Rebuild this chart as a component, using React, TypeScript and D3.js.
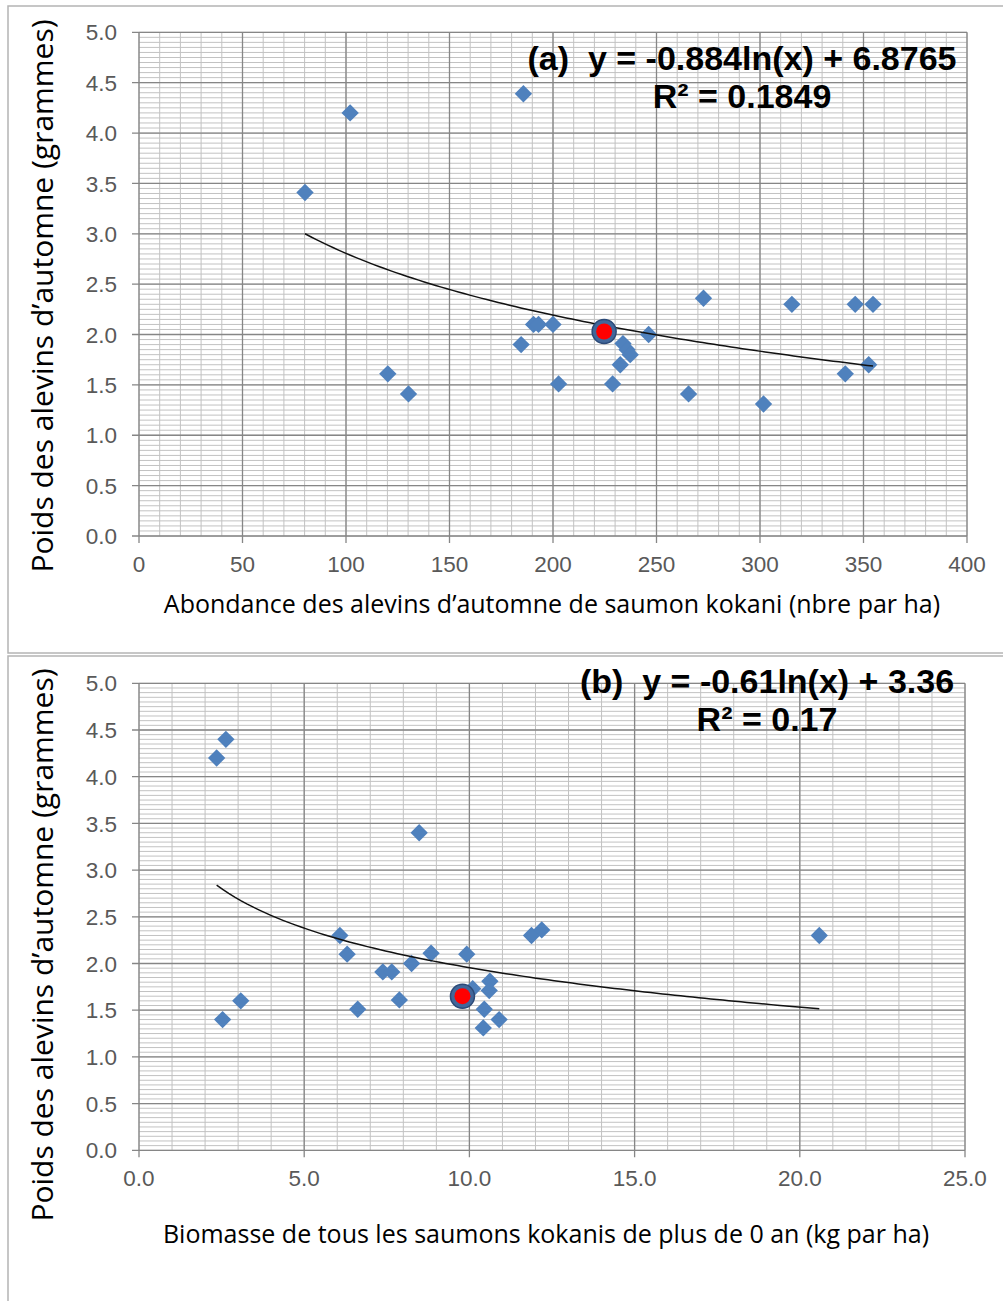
import * as d3 from 'd3'

// Panel (a): abundance of autumn fry vs weight
const abondance = [80.2, 102, 185.7, 120.2, 130.2, 184.6, 190.6, 193, 200, 202.7, 228.8, 233.8, 235.8, 237.3, 232.5, 246.2, 265.5, 272.7, 301.7, 315.4, 341.2, 346, 352.5, 354.6]
const poidsA = [3.41, 4.2, 4.39, 1.61, 1.41, 1.9, 2.1, 2.1, 2.1, 1.51, 1.51, 1.91, 1.85, 1.8, 1.7, 2.0, 1.41, 2.36, 1.31, 2.3, 1.61, 2.3, 1.7, 2.3]
const pointRougeA = [224.7, 2.03]
const fitA = [-0.884, 6.8765]
const equationA = ['(a)  y = -0.884ln(x) + 6.8765', 'R² = 0.1849']
const xTicksA = [0, 50, 100, 150, 200, 250, 300, 350, 400]

// Panel (b): biomass of all kokanee > age 0 vs weight
const biomasse = [2.35, 2.63, 2.53, 3.08, 8.48, 6.08, 6.3, 6.62, 7.38, 7.65, 7.88, 8.25, 8.84, 9.92, 10.1, 10.62, 10.6, 10.45, 10.42, 10.9, 11.88, 12.19, 20.59]
const poidsB = [4.2, 4.4, 1.4, 1.6, 3.4, 2.3, 2.1, 1.51, 1.91, 1.91, 1.61, 2.0, 2.11, 2.1, 1.73, 1.81, 1.71, 1.51, 1.31, 1.4, 2.3, 2.36, 2.3]
const pointRougeB = [9.79, 1.65]
const fitB = [-0.61, 3.36]
const equationB = ['(b)  y = -0.61ln(x) + 3.36', 'R² = 0.17']
const xTicksB = [0, 5, 10, 15, 20, 25]

const yTicks = [0, 0.5, 1, 1.5, 2, 2.5, 3, 3.5, 4, 4.5, 5]

const TITLE_Y = 'Poids des alevins d’automne (grammes)'

function Panel({ top, height, xs, ys, red, fit, equation, xTicks, xMinor, xFmt, plot, xTitle, yTitleY, eq }) {
  const x = d3.scaleLinear().domain([xTicks[0], xTicks[xTicks.length - 1]]).range([plot.left, plot.right])
  const y = d3.scaleLinear().domain([0, 5]).range([plot.bottom, plot.top])

  const xMin = d3.range(xTicks[0], xTicks[xTicks.length - 1] + 1e-9, xMinor)
  const yMin = d3.range(0, 5 + 1e-9, 0.05)

  // trend curve from the fitted equation, over the span of the data
  const allX = [...xs, red[0]]
  const [lo, hi] = d3.extent(allX)
  const curveX = d3.range(0, 101).map(i => lo + (hi - lo) * i / 100)
  const line = d3.line().x(d => x(d)).y(d => y(fit[0] * Math.log(d) + fit[1]))

  const diamond = d3.symbol(d3.symbolSquare, 150)()

  return (
    <g>
      <rect x={8} y={top} width={1010} height={height} fill="#fff" stroke="#b4b4b4" strokeWidth={1.5} />
      {yMin.map((v, i) => (
        <line key={'hm' + i} x1={plot.left} x2={plot.right} y1={y(v)} y2={y(v)} stroke="#c2c2c2" strokeWidth={1} />
      ))}
      {xMin.map((v, i) => (
        <line key={'vm' + i} x1={x(v)} x2={x(v)} y1={plot.top} y2={plot.bottom} stroke="#c2c2c2" strokeWidth={1} />
      ))}
      {yTicks.map(v => (
        <line key={'hM' + v} x1={plot.left - 7} x2={plot.right} y1={y(v)} y2={y(v)} stroke="#868686" strokeWidth={1.3} />
      ))}
      {xTicks.map(v => (
        <line key={'vM' + v} x1={x(v)} x2={x(v)} y1={plot.top} y2={plot.bottom + 7} stroke="#868686" strokeWidth={1.3} />
      ))}
      {yTicks.map(v => (
        <text key={'yl' + v} x={plot.left - 22} y={y(v)} dy="0.36em" textAnchor="end"
          fontFamily="Liberation Sans, Arial" fontSize={22.5} fill="#595959">{v.toFixed(1)}</text>
      ))}
      {xTicks.map(v => (
        <text key={'xl' + v} x={x(v)} y={plot.bottom + 36} textAnchor="middle"
          fontFamily="Liberation Sans, Arial" fontSize={22.5} fill="#595959">{xFmt(v)}</text>
      ))}
      {xs.map((v, i) => (
        <path key={'p' + i} d={diamond} transform={`translate(${x(v)},${y(ys[i])}) rotate(45)`} fill="#4f81bd" />
      ))}
      <path d={line(curveX)} fill="none" stroke="#111" strokeWidth={1.5} />
      <circle cx={x(red[0])} cy={y(red[1])} r={12} fill="#41679a" stroke="#2c4a78" strokeWidth={1.5} />
      <circle cx={x(red[0])} cy={y(red[1])} r={8} fill="#ff0000" />
      <text transform={`translate(53,${yTitleY}) rotate(-90)`} textAnchor="middle"
        fontFamily="Open Sans" fontSize={30} fill="#000">{TITLE_Y}</text>
      <text x={xTitle.x} y={xTitle.y} textAnchor="middle" fontFamily="Open Sans" fontSize={25} fill="#000">{xTitle.text}</text>
      {equation.map((t, i) => (
        <text key={'eq' + i} x={eq.x} y={eq.y + i * 38} textAnchor="middle" fontFamily="Liberation Sans, Arial"
          fontWeight="bold" fontSize={34} fill="#000" style={{ whiteSpace: 'pre' }}>{t}</text>
      ))}
    </g>
  )
}

export default function App() {
  return (
    <div style={{ position: 'absolute', left: 0, top: 0 }}>
      <svg width={1003} height={1301} style={{ display: 'block' }}>
        <rect width={1003} height={1301} fill="#fff" />
        <Panel top={6} height={647} xs={abondance} ys={poidsA} red={pointRougeA} fit={fitA} equation={equationA}
          xTicks={xTicksA} xMinor={10} xFmt={v => String(v)}
          plot={{ left: 139, right: 967, top: 32.3, bottom: 536 }}
          xTitle={{ x: 552, y: 613, text: 'Abondance des alevins d’automne de saumon kokani (nbre par ha)' }}
          yTitleY={296}
          eq={{ x: 742, y: 70 }} />
        <Panel top={656} height={660} xs={biomasse} ys={poidsB} red={pointRougeB} fit={fitB} equation={equationB}
          xTicks={xTicksB} xMinor={1} xFmt={v => v.toFixed(1)}
          plot={{ left: 139, right: 965, top: 683.3, bottom: 1150.3 }}
          xTitle={{ x: 546, y: 1243, text: 'Biomasse de tous les saumons kokanis de plus de 0 an (kg par ha)' }}
          yTitleY={945}
          eq={{ x: 767, y: 693 }} />
      </svg>
    </div>
  )
}
